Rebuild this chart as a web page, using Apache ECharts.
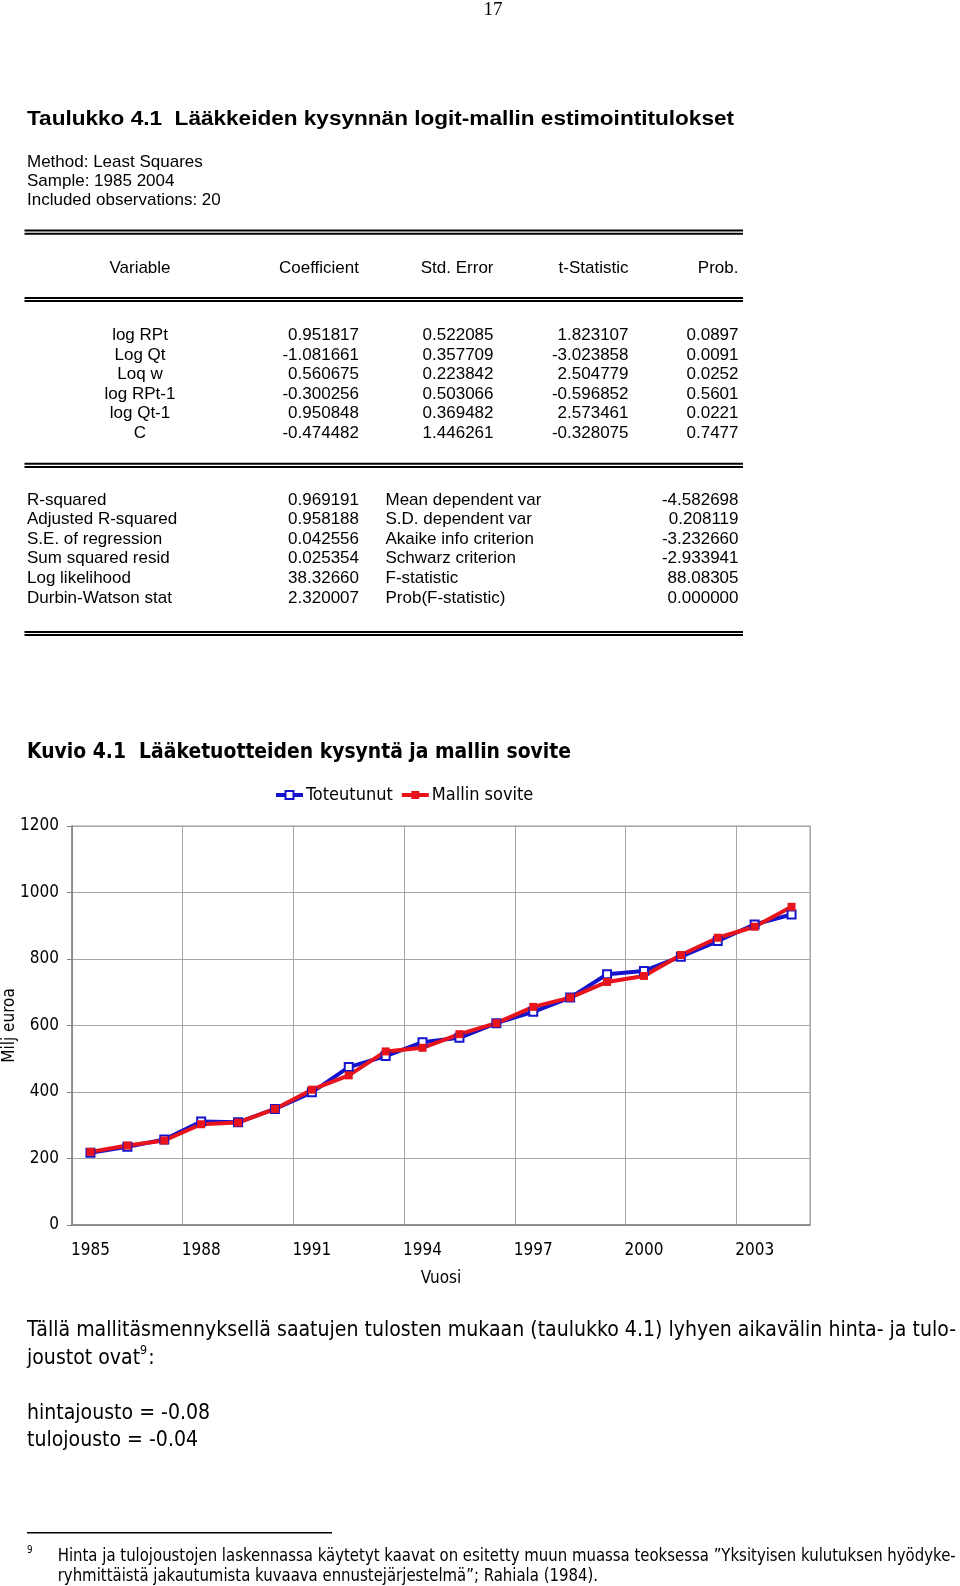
<!DOCTYPE html>
<html>
<head>
<meta charset="utf-8">
<script src="https://cdn.jsdelivr.net/npm/echarts@6/dist/echarts.min.js"></script>
<style>
  body { margin: 0; background: #fff; }
  #main { width: 960px; height: 1586px; }
</style>
</head>
<body>
<div id="main"></div>
<script>
// chart data
var years = ['1985','1986','1987','1988','1989','1990','1991','1992','1993','1994',
             '1995','1996','1997','1998','1999','2000','2001','2002','2003','2004'];
var toteutunut  = [217, 235, 257, 311, 309, 349, 399, 475, 508, 550, 563, 607, 641, 684, 754, 764, 807, 854, 904, 934];
var malliSovite = [220, 239, 254, 303, 308, 349, 407, 450, 522, 533, 574, 607, 656, 684, 731, 749, 812, 864, 897, 957];
var yMax = 1200, yStep = 200;

// table data
var headers  = ['Variable', 'Coefficient', 'Std. Error', 't-Statistic', 'Prob.'];
var varNames = ['log RPt', 'Log Qt', 'Loq w', 'log RPt-1', 'log Qt-1', 'C'];
var coefs    = ['0.951817', '-1.081661', '0.560675', '-0.300256', '0.950848', '-0.474482'];
var stdErrs  = ['0.522085', '0.357709', '0.223842', '0.503066', '0.369482', '1.446261'];
var tStats   = ['1.823107', '-3.023858', '2.504779', '-0.596852', '2.573461', '-0.328075'];
var probs    = ['0.0897', '0.0091', '0.0252', '0.5601', '0.0221', '0.7477'];
var statNamesL = ['R-squared', 'Adjusted R-squared', 'S.E. of regression', 'Sum squared resid', 'Log likelihood', 'Durbin-Watson stat'];
var statValsL  = ['0.969191', '0.958188', '0.042556', '0.025354', '38.32660', '2.320007'];
var statNamesR = ['Mean dependent var', 'S.D. dependent var', 'Akaike info criterion', 'Schwarz criterion', 'F-statistic', 'Prob(F-statistic)'];
var statValsR  = ['-4.582698', '0.208119', '-3.232660', '-2.933941', '88.08305', '0.000000'];

var ARIAL = 'Liberation Sans';
var VERD = 'DejaVu Sans';
var VERDC = 'DejaVu Sans Condensed';

var ctx = document.createElement('canvas').getContext('2d');
function measure(s, size, family, weight) {
  ctx.font = (weight || 'normal') + ' ' + size + 'px "' + family + '"';
  return ctx.measureText(s).width;
}

function txt(x, y, s, size, family, opt) {
  opt = opt || {};
  return {
    type: 'text', x: x, y: y, scaleX: opt.sx || 1,
    style: {
      text: s, fill: '#000', fontSize: size, fontFamily: family,
      fontWeight: opt.weight || 'normal', align: opt.align || 'left', verticalAlign: 'middle'
    }
  };
}
function hline(x1, x2, y, h) {
  return { type: 'rect', shape: { x: x1, y: y, width: x2 - x1, height: h }, style: { fill: '#000' } };
}
function dbl(y) {
  return [hline(24.5, 743, y - 1, 2), hline(24.5, 743, y + 2.1, 2)];
}

var g = [];
g.push(txt(493, 10, '17', 19, 'Liberation Serif', { align: 'center' }));

var t1 = 'Taulukko 4.1  Lääkkeiden kysynnän logit-mallin estimointitulokset';
g.push(txt(27, 119, t1, 20, ARIAL, { weight: 'bold', sx: 707 / measure(t1, 20, ARIAL, 'bold') }));
g.push(txt(27, 162, 'Method: Least Squares', 17, ARIAL));
g.push(txt(27, 181, 'Sample: 1985 2004', 17, ARIAL));
g.push(txt(27, 200.5, 'Included observations: 20', 17, ARIAL));

g = g.concat(dbl(230.6), dbl(298));

var colRight = [359, 493.5, 628.5, 738.5];
g.push(txt(140, 268.5, headers[0], 17, ARIAL, { align: 'center' }));
for (var c = 1; c < headers.length; c++) {
  g.push(txt(colRight[c - 1], 268.5, headers[c], 17, ARIAL, { align: 'right' }));
}
var rowY = [335.5, 355, 374.5, 394, 413.5, 433];
for (var i = 0; i < varNames.length; i++) {
  g.push(txt(140, rowY[i], varNames[i], 17, ARIAL, { align: 'center' }));
  g.push(txt(colRight[0], rowY[i], coefs[i], 17, ARIAL, { align: 'right' }));
  g.push(txt(colRight[1], rowY[i], stdErrs[i], 17, ARIAL, { align: 'right' }));
  g.push(txt(colRight[2], rowY[i], tStats[i], 17, ARIAL, { align: 'right' }));
  g.push(txt(colRight[3], rowY[i], probs[i], 17, ARIAL, { align: 'right' }));
}

g = g.concat(dbl(463.8));
var statY = [500.5, 519.8, 539.3, 558.7, 578.1, 598];
for (var j = 0; j < statNamesL.length; j++) {
  g.push(txt(27, statY[j], statNamesL[j], 17, ARIAL));
  g.push(txt(359, statY[j], statValsL[j], 17, ARIAL, { align: 'right' }));
  g.push(txt(385.5, statY[j], statNamesR[j], 17, ARIAL));
  g.push(txt(738.5, statY[j], statValsR[j], 17, ARIAL, { align: 'right' }));
}
g = g.concat(dbl(632));

var t2 = 'Kuvio 4.1  Lääketuotteiden kysyntä ja mallin sovite';
g.push(txt(27, 752.5, t2, 21, VERD, { weight: 'bold', sx: 544 / measure(t2, 21, VERD, 'bold') }));

// body text below the chart
var b1 = 'Tällä mallitäsmennyksellä saatujen tulosten mukaan (taulukko 4.1) lyhyen aikavälin hinta- ja tulo-';
var bsx = 929 / measure(b1, 22, VERD);
g.push(txt(27, 1330, b1, 22, VERD, { sx: bsx }));
var b2 = 'joustot ovat';
g.push(txt(27, 1358.5, b2, 22, VERD, { sx: bsx }));
var supX = 27 + measure(b2, 22, VERD) * bsx;
g.push(txt(supX, 1351, '9', 13, VERD, { sx: bsx }));
g.push(txt(supX + measure('9', 13, VERD) * bsx + 1, 1358.5, ':', 22, VERD, { sx: bsx }));
g.push(txt(27, 1413, 'hintajousto = -0.08', 22, VERD, { sx: bsx }));
g.push(txt(27, 1440.5, 'tulojousto = -0.04', 22, VERD, { sx: bsx }));

// footnote
g.push(hline(27, 332, 1532, 1.5));
g.push(txt(27, 1550, '9', 11, VERD, { sx: 0.8 }));
var f1 = 'Hinta ja tulojoustojen laskennassa käytetyt kaavat on esitetty muun muassa teoksessa ”Yksityisen kulutuksen hyödyke-';
var fsx = 898 / measure(f1, 17, VERD);
g.push(txt(57.7, 1557, f1, 17, VERD, { sx: fsx }));
g.push(txt(57.7, 1576.5, 'ryhmittäistä jakautumista kuvaava ennustejärjestelmä”; Rahiala (1984).', 17, VERD, { sx: fsx }));

var myChart = echarts.init(document.getElementById('main'));
myChart.setOption({
  animation: false,
  backgroundColor: '#fff',
  textStyle: { fontFamily: VERDC, color: '#000' },
  legend: {
    left: 269, top: 781,
    itemWidth: 27, itemHeight: 10, itemGap: 7,
    lineStyle: { width: 4 },
    textStyle: { fontSize: 18, color: '#000', fontFamily: VERDC, padding: [0, 0, 0, -2] },
    data: ['Toteutunut', 'Mallin sovite']
  },
  grid: {
    left: 72, right: 150, top: 826, bottom: 361,
    show: true, borderColor: '#9a9a9a', borderWidth: 1,
    outerBoundsMode: 'none'
  },
  xAxis: {
    type: 'category',
    data: years,
    boundaryGap: true,
    name: 'Vuosi', nameLocation: 'middle', nameGap: 45, nameMoveOverlap: false,
    nameTextStyle: { fontSize: 17, color: '#000', fontFamily: VERDC },
    axisLine: { lineStyle: { color: '#808080', width: 1.5 } },
    axisTick: { interval: 2, length: 5, lineStyle: { color: '#808080' } },
    axisLabel: { interval: 2, margin: 17, fontSize: 17, color: '#000', fontFamily: VERDC },
    splitLine: { show: true, interval: 2, lineStyle: { color: '#a6a6a6', width: 1 } }
  },
  yAxis: {
    type: 'value',
    min: 0, max: yMax, interval: yStep,
    name: 'Milj euroa', nameLocation: 'middle', nameGap: 54, nameRotate: 90, nameMoveOverlap: false,
    nameTextStyle: { fontSize: 17, color: '#000', fontFamily: VERDC },
    axisLine: { show: true, lineStyle: { color: '#808080', width: 1.5 } },
    axisTick: { show: true, length: 5, lineStyle: { color: '#808080' } },
    axisLabel: {
      margin: 13, fontSize: 17, color: '#000', fontFamily: VERDC,
      formatter: function (v) { return String(v); }
    },
    splitLine: { show: true, lineStyle: { color: '#a6a6a6', width: 1 } }
  },
  series: [
    {
      name: 'Toteutunut', type: 'line', data: toteutunut,
      symbol: 'emptyRect', symbolSize: 8, showAllSymbol: true,
      lineStyle: { color: '#1414cc', width: 4 },
      itemStyle: { color: '#1414cc', borderWidth: 1.5 }
    },
    {
      name: 'Mallin sovite', type: 'line', data: malliSovite,
      symbol: 'rect', symbolSize: 8, showAllSymbol: true,
      lineStyle: { color: '#e8141c', width: 4 },
      itemStyle: { color: '#e8141c' }
    }
  ],
  graphic: g
});
</script>
</body>
</html>
